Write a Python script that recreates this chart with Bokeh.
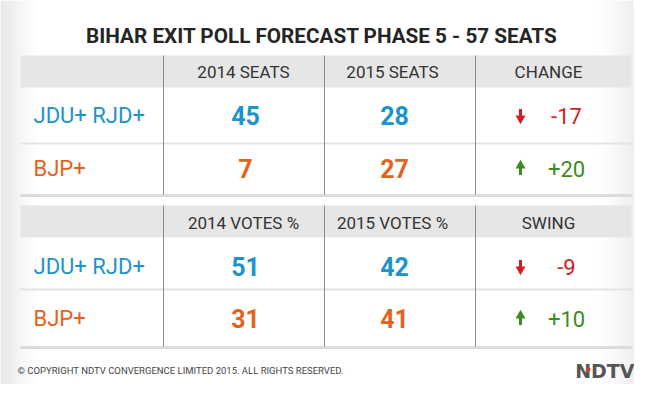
from bokeh.plotting import figure
from bokeh.models import Range1d, ColumnDataSource
from bokeh.core.properties import value
from bokeh.embed import file_html
from bokeh.resources import INLINE

# ---------------- data ----------------
title = "BIHAR EXIT POLL FORECAST PHASE  5 - 57 SEATS"
parties = ["JDU+ RJD+", "BJP+"]
seat_headers = ["2014 SEATS", "2015 SEATS", "CHANGE"]
vote_headers = ["2014 VOTES %", "2015 VOTES %", "SWING"]
seats_2014 = [45, 7]
seats_2015 = [28, 27]
seat_change = [-17, 20]
votes_2014 = [51, 31]
votes_2015 = [42, 41]
vote_swing = [-9, 10]
copyright_text = "\u00a9 COPYRIGHT NDTV CONVERGENCE LIMITED 2015. ALL RIGHTS RESERVED."
logo_text = "NDTV"

# ---------------- style ----------------
party_colors = ["#1b94cb", "#e5621c"]
up_color = "#3d8c1c"
down_color = "#d11f1f"
band_color = "#e6e6e6"
FONT = value("Roboto")

p = figure(width=634, height=384, x_range=Range1d(0, 634), y_range=Range1d(384, 0),
           output_backend="svg", toolbar_location=None, min_border=0,
           outline_line_color=None, background_fill_color="white",
           border_fill_color="white")
p.axis.visible = False
p.grid.visible = False

# soft grey vignette on left / right edges
n = 14
for i in range(n):
    a = 0.24 * (1 - i / n) ** 1.6
    p.quad(left=i * 3, right=(i + 1) * 3, top=0, bottom=384,
           fill_color="#9a9a9a", fill_alpha=a, line_color=None)
    a2 = 0.16 * (1 - i / n) ** 1.6
    p.quad(left=634 - (i + 1) * 3, right=634 - i * 3, top=0, bottom=384,
           fill_color="#9a9a9a", fill_alpha=a2, line_color=None)

# title
p.text(x=[324], y=[35], text=[title], text_font=FONT, text_font_style="bold",
       text_font_size="20.7px", text_color="#252525", text_align="center",
       text_baseline="middle")

col_x = [245, 394, 566]
head_x = [243, 392, 548]
vline_x = [163, 324, 475]


def draw_table(top, header_y, row_y, sep_y, bottom_y, headers, v1, v2, delta):
    # header band
    p.quad(left=20, right=631, top=top, bottom=top + 32, fill_color=band_color,
           line_color=None)
    # separators
    p.segment(x0=[20], x1=[632], y0=[sep_y], y1=[sep_y], line_color="#e4e4e4",
              line_width=2)
    p.segment(x0=[20], x1=[632], y0=[bottom_y], y1=[bottom_y], line_color="#dcdcdc",
              line_width=3)
    # vertical rules
    p.segment(x0=vline_x, x1=vline_x, y0=[top] * 3, y1=[bottom_y - 1] * 3,
              line_color="#8c8c8c", line_width=1)
    # header labels
    p.text(x=head_x, y=[header_y] * 3, text=headers, text_font=FONT,
           text_font_size="17px", text_color="#333333", text_align="center",
           text_baseline="middle")
    # party labels
    src = ColumnDataSource(dict(x=[33, 33], y=row_y, t=parties, c=party_colors))
    p.text(x="x", y="y", text="t", text_color="c", source=src, text_font=FONT,
           text_font_size="22px", text_align="left", text_baseline="middle")
    # numbers
    for cx, vals in ((col_x[0], v1), (col_x[1], v2)):
        s = ColumnDataSource(dict(x=[cx, cx], y=row_y, t=[str(v) for v in vals],
                                  c=party_colors))
        p.text(x="x", y="y", text="t", text_color="c", source=s, text_font=FONT,
               text_font_style="bold", text_font_size="25px", text_align="center",
               text_baseline="middle")
    # change / swing
    dtext = [("+%d" % d) if d > 0 else ("-%d" % abs(d)) for d in delta]
    dcol = [up_color if d > 0 else down_color for d in delta]
    s = ColumnDataSource(dict(x=[col_x[2]] * 2, y=row_y, t=dtext, c=dcol))
    p.text(x="x", y="y", text="t", text_color="c", source=s, text_font=FONT,
           text_font_size="22px", text_align="center", text_baseline="middle")
    # arrows
    for yy, d, c in zip(row_y, delta, dcol):
        if d > 0:
            p.rect(x=[520], y=[yy + 3], width=3, height=7, fill_color=c, line_color=None)
            p.scatter(x=[520], y=[yy - 3], marker="triangle", size=10, fill_color=c,
                      line_color=None)
        else:
            p.rect(x=[520], y=[yy - 3], width=3, height=7, fill_color=c, line_color=None)
            p.scatter(x=[520], y=[yy + 3], marker="inverted_triangle", size=10,
                      fill_color=c, line_color=None)


draw_table(55, 71, [115, 168], 143, 195, seat_headers, seats_2014, seats_2015, seat_change)
draw_table(205, 222, [266, 318], 289, 347, vote_headers, votes_2014, votes_2015, vote_swing)

# footer
p.text(x=[17], y=[370], text=[copyright_text], text_font=FONT, text_font_size="9.5px",
       text_color="#444444", text_align="left", text_baseline="middle")
p.text(x=[634], y=[370], text=[logo_text], text_font=value("DejaVu Sans"),
       text_font_style="bold", text_font_size="19px", text_color="#555555",
       text_align="right", text_baseline="middle")
p.scatter(x=[588], y=[369], size=4, fill_color="#e03030", line_color=None)

open("out.html", "w").write(file_html(p, INLINE))
